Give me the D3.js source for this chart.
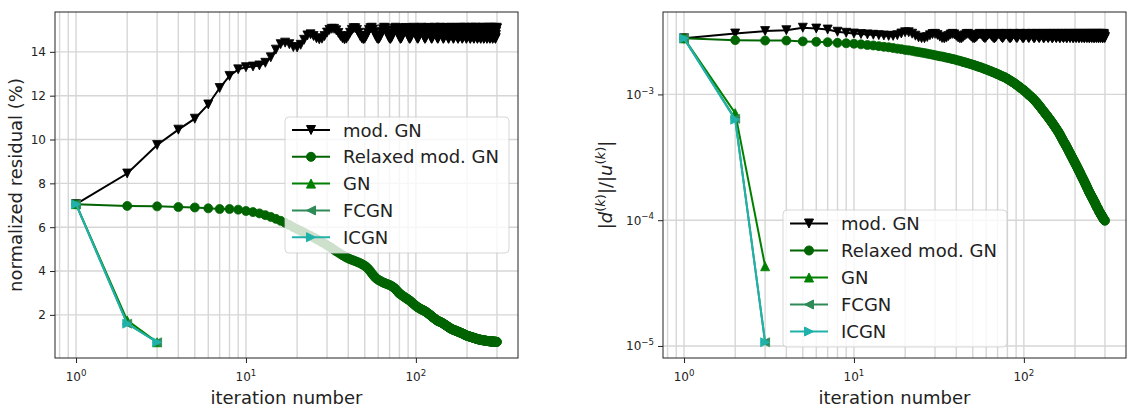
<html>
<script src="https://d3js.org/d3.v7.min.js"></script>
<style>
  body { margin: 0; background: white; }
  text { font-family: "DejaVu Sans", sans-serif; fill: #222; }
</style>
<body>
<svg width="1137" height="410"></svg>
<script>
// ---- data ----
const maxIter = 300;
const seriesNames = ["mod. GN", "Relaxed mod. GN", "GN", "FCGN", "ICGN"];
const seriesColors = ["#000000", "#006400", "#008000", "#2e8b57", "#20b2aa"];
const seriesMarkers = ["v", "o", "^", "<", ">"];
const xTicks = [1, 10, 100];
const resTicks = [2, 4, 6, 8, 10, 12, 14];
const updTicks = [1e-5, 1e-4, 1e-3];

// normalized residual (%), one value per iteration starting at 1
const resModGN = [
  7.05, 8.45, 9.75, 10.45, 10.95, 11.6, 12.35, 12.9, 13.2, 13.3,
  13.33, 13.38, 13.5, 13.75, 14.1, 14.35, 14.42, 14.35, 14.22, 14.2,
  14.32, 14.55, 14.75, 14.8, 14.72, 14.62, 14.57, 14.6, 14.72, 14.88,
  15.0, 15.05, 15.05, 14.98, 14.86, 14.72, 14.62, 14.57, 14.6, 14.72,
  14.87, 15.0, 15.08, 15.08, 15.0, 14.87, 14.72, 14.62, 14.58, 14.6,
  14.72, 14.87, 15.0, 15.08, 15.1, 15.02, 14.88, 14.73, 14.62, 14.58,
  14.62, 14.74, 14.9, 15.03, 15.1, 15.08, 14.98, 14.83, 14.69, 14.6,
  14.59, 14.66, 14.8, 14.95, 15.06, 15.1, 15.05, 14.93, 14.78, 14.66,
  14.59, 14.61, 14.71, 14.86, 15.0, 15.08, 15.09, 15.01, 14.87, 14.73,
  14.63, 14.59, 14.63, 14.75, 14.9, 15.03, 15.1, 15.07, 14.97, 14.82,
  14.69, 14.6, 14.6, 14.68, 14.82, 14.97, 15.07, 15.1, 15.04, 14.91,
  14.76, 14.65, 14.59, 14.62, 14.72, 14.87, 15.01, 15.09, 15.09, 15.0,
  14.85, 14.71, 14.62, 14.59, 14.64, 14.77, 14.92, 15.04, 15.1, 15.06,
  14.95, 14.8, 14.67, 14.6, 14.6, 14.69, 14.84, 14.98, 15.08, 15.1,
  15.03, 14.89, 14.74, 14.64, 14.59, 14.62, 14.74, 14.89, 15.02, 15.09,
  15.08, 14.98, 14.83, 14.7, 14.61, 14.59, 14.66, 14.79, 14.94, 15.05,
  15.1, 15.05, 14.93, 14.78, 14.66, 14.59, 14.61, 14.71, 14.86, 15.0,
  15.08, 15.09, 15.01, 14.87, 14.73, 14.63, 14.59, 14.63, 14.75, 14.9,
  15.03, 15.1, 15.07, 14.96, 14.81, 14.68, 14.6, 14.6, 14.68, 14.82,
  14.97, 15.07, 15.1, 15.04, 14.91, 14.76, 14.65, 14.59, 14.62, 14.72,
  14.87, 15.01, 15.09, 15.09, 15.0, 14.85, 14.71, 14.62, 14.59, 14.64,
  14.77, 14.92, 15.04, 15.1, 15.06, 14.95, 14.8, 14.67, 14.6, 14.6,
  14.69, 14.84, 14.98, 15.08, 15.1, 15.03, 14.89, 14.74, 14.64, 14.59,
  14.62, 14.74, 14.89, 15.02, 15.09, 15.08, 14.98, 14.83, 14.7, 14.61,
  14.59, 14.66, 14.79, 14.94, 15.05, 15.1, 15.05, 14.93, 14.78, 14.66,
  14.59, 14.61, 14.71, 14.86, 15.0, 15.08, 15.09, 15.01, 14.87, 14.73,
  14.63, 14.59, 14.63, 14.75, 14.9, 15.03, 15.1, 15.07, 14.96, 14.81,
  14.68, 14.6, 14.6, 14.68, 14.82, 14.97, 15.07, 15.1, 15.04, 14.91,
  14.76, 14.65, 14.59, 14.62, 14.72, 14.87, 15.01, 15.09, 15.09, 15.0,
  14.85, 14.71, 14.62, 14.59, 14.64, 14.77, 14.92, 15.04, 15.1, 15.06
];
const resRelaxed = [
  7.05, 6.97, 6.95, 6.92, 6.9, 6.86, 6.83, 6.83, 6.8, 6.74,
  6.69, 6.63, 6.55, 6.47, 6.38, 6.29, 6.2, 6.1, 6.0, 5.91,
  5.83, 5.75, 5.67, 5.6, 5.53, 5.46, 5.39, 5.32, 5.25, 5.18,
  5.11, 5.04, 4.97, 4.9, 4.84, 4.78, 4.72, 4.67, 4.62, 4.58,
  4.54, 4.51, 4.48, 4.45, 4.42, 4.39, 4.36, 4.32, 4.28, 4.24,
  4.19, 4.13, 4.06, 3.98, 3.9, 3.82, 3.75, 3.69, 3.64, 3.6,
  3.57, 3.54, 3.51, 3.48, 3.46, 3.44, 3.42, 3.4, 3.38, 3.36,
  3.34, 3.31, 3.28, 3.25, 3.21, 3.17, 3.12, 3.07, 3.02, 2.97,
  2.95, 2.92, 2.89, 2.86, 2.83, 2.8, 2.78, 2.75, 2.73, 2.7,
  2.68, 2.65, 2.62, 2.59, 2.56, 2.53, 2.5, 2.47, 2.44, 2.41,
  2.38, 2.36, 2.34, 2.32, 2.3, 2.28, 2.26, 2.25, 2.23, 2.22,
  2.2, 2.19, 2.17, 2.15, 2.13, 2.11, 2.09, 2.07, 2.05, 2.02,
  2.0, 1.98, 1.96, 1.93, 1.91, 1.89, 1.87, 1.85, 1.83, 1.81,
  1.79, 1.77, 1.75, 1.74, 1.72, 1.71, 1.7, 1.69, 1.68, 1.67,
  1.66, 1.64, 1.63, 1.62, 1.6, 1.59, 1.57, 1.56, 1.54, 1.53,
  1.51, 1.5, 1.48, 1.47, 1.45, 1.44, 1.42, 1.41, 1.4, 1.38,
  1.37, 1.36, 1.35, 1.34, 1.33, 1.32, 1.31, 1.31, 1.3, 1.29,
  1.28, 1.28, 1.27, 1.26, 1.25, 1.24, 1.24, 1.23, 1.22, 1.21,
  1.2, 1.2, 1.19, 1.18, 1.17, 1.16, 1.16, 1.15, 1.14, 1.13,
  1.12, 1.11, 1.1, 1.1, 1.09, 1.08, 1.07, 1.06, 1.06, 1.05,
  1.04, 1.04, 1.03, 1.03, 1.02, 1.02, 1.01, 1.01, 1.0, 1.0,
  0.99, 0.99, 0.98, 0.98, 0.97, 0.97, 0.96, 0.96, 0.95, 0.95,
  0.94, 0.94, 0.93, 0.93, 0.92, 0.92, 0.91, 0.91, 0.9, 0.9,
  0.89, 0.89, 0.89, 0.88, 0.88, 0.88, 0.87, 0.87, 0.87, 0.86,
  0.86, 0.86, 0.86, 0.85, 0.85, 0.85, 0.85, 0.84, 0.84, 0.84,
  0.84, 0.83, 0.83, 0.83, 0.83, 0.82, 0.82, 0.82, 0.82, 0.82,
  0.81, 0.81, 0.81, 0.81, 0.81, 0.8, 0.8, 0.8, 0.8, 0.8,
  0.8, 0.8, 0.79, 0.79, 0.79, 0.79, 0.79, 0.79, 0.79, 0.79,
  0.78, 0.78, 0.78, 0.78, 0.78, 0.78, 0.78, 0.78, 0.78, 0.78,
  0.78, 0.78, 0.77, 0.77, 0.77, 0.77, 0.77, 0.77, 0.77, 0.77
];
const resGN = [7.05, 1.75, 0.75];
const resFCGN = [7.05, 1.6, 0.75];
const resICGN = [7.05, 1.6, 0.75];

// |d(k)|/|u(k)|, written in units of 1e-3, one value per iteration
const updUnit = 1e-3;
const updModGN = [
  2.79, 3.05, 3.19, 3.24, 3.39, 3.34, 3.28, 3.15, 3.09, 3.05,
  3.02, 3.0, 2.98, 2.96, 2.94, 2.92, 2.92, 2.96, 3.05, 3.12,
  3.12, 3.04, 2.93, 2.84, 2.8, 2.8, 2.86, 2.95, 3.02, 3.03,
  2.97, 2.88, 2.81, 2.79, 2.83, 2.91, 2.99, 3.03, 3.0, 2.92,
  2.84, 2.79, 2.8, 2.87, 2.95, 3.02, 3.03, 2.97, 2.88, 2.81,
  2.79, 2.83, 2.91, 2.99, 3.03, 3.0, 2.92, 2.84, 2.8, 2.86,
  2.94, 3.01, 3.03, 2.97, 2.89, 2.82, 2.79, 2.83, 2.91, 2.99,
  3.03, 3.0, 2.92, 2.84, 2.8, 2.86, 2.94, 3.01, 3.03, 2.97,
  2.89, 2.82, 2.79, 2.83, 2.91, 2.99, 3.03, 3.0, 2.92, 2.84,
  2.8, 2.86, 2.94, 3.01, 3.03, 2.97, 2.89, 2.82, 2.79, 2.83,
  2.91, 2.99, 3.03, 3.0, 2.92, 2.84, 2.8, 2.86, 2.94, 3.01,
  3.03, 2.97, 2.89, 2.82, 2.79, 2.83, 2.91, 2.99, 3.03, 3.0,
  2.92, 2.84, 2.8, 2.86, 2.94, 3.01, 3.03, 2.97, 2.89, 2.82,
  2.79, 2.83, 2.91, 2.99, 3.03, 3.0, 2.92, 2.84, 2.8, 2.86,
  2.94, 3.01, 3.03, 2.97, 2.89, 2.82, 2.79, 2.83, 2.91, 2.99,
  3.03, 3.0, 2.92, 2.84, 2.8, 2.86, 2.94, 3.01, 3.03, 2.97,
  2.89, 2.82, 2.79, 2.83, 2.91, 2.99, 3.03, 3.0, 2.92, 2.84,
  2.8, 2.86, 2.94, 3.01, 3.03, 2.97, 2.89, 2.82, 2.79, 2.83,
  2.91, 2.99, 3.03, 3.0, 2.92, 2.84, 2.8, 2.86, 2.94, 3.01,
  3.03, 2.97, 2.89, 2.82, 2.79, 2.83, 2.91, 2.99, 3.03, 3.0,
  2.92, 2.84, 2.8, 2.86, 2.94, 3.01, 3.03, 2.97, 2.89, 2.82,
  2.79, 2.83, 2.91, 2.99, 3.03, 3.0, 2.92, 2.84, 2.8, 2.86,
  2.94, 3.01, 3.03, 2.97, 2.89, 2.82, 2.79, 2.83, 2.91, 2.99,
  3.03, 3.0, 2.92, 2.84, 2.8, 2.86, 2.94, 3.01, 3.03, 2.97,
  2.89, 2.82, 2.79, 2.83, 2.91, 2.99, 3.03, 3.0, 2.92, 2.84,
  2.8, 2.86, 2.94, 3.01, 3.03, 2.97, 2.89, 2.82, 2.79, 2.83,
  2.91, 2.99, 3.03, 3.0, 2.92, 2.84, 2.8, 2.86, 2.94, 3.01,
  3.03, 2.97, 2.89, 2.82, 2.79, 2.83, 2.91, 2.99, 3.03, 3.0,
  2.92, 2.84, 2.8, 2.86, 2.94, 3.01, 3.03, 2.97, 2.89, 2.82,
  2.79, 2.83, 2.91, 2.99, 3.03, 3.0, 2.92, 2.84, 2.8, 2.86
];
const updRelaxed = [
  2.79, 2.7, 2.68, 2.68, 2.64, 2.62, 2.6, 2.57, 2.55, 2.53,
  2.5, 2.47, 2.45, 2.42, 2.39, 2.37, 2.34, 2.31, 2.29, 2.26,
  2.24, 2.22, 2.19, 2.17, 2.15, 2.13, 2.11, 2.09, 2.07, 2.05,
  2.03, 2.01, 2.0, 1.98, 1.96, 1.95, 1.93, 1.91, 1.9, 1.88,
  1.86, 1.85, 1.83, 1.81, 1.8, 1.78, 1.77, 1.75, 1.74, 1.72,
  1.71, 1.69, 1.68, 1.66, 1.65, 1.64, 1.62, 1.61, 1.59, 1.58,
  1.57, 1.55, 1.54, 1.53, 1.51, 1.5, 1.49, 1.48, 1.46, 1.45,
  1.44, 1.43, 1.41, 1.4, 1.39, 1.38, 1.37, 1.36, 1.34, 1.33,
  1.32, 1.3, 1.29, 1.28, 1.26, 1.25, 1.24, 1.23, 1.21, 1.2,
  1.19, 1.17, 1.16, 1.15, 1.14, 1.12, 1.11, 1.1, 1.09, 1.08,
  1.07, 1.05, 1.04, 1.03, 1.02, 1.0, 0.99, 0.98, 0.97, 0.96,
  0.949, 0.937, 0.926, 0.915, 0.904, 0.893, 0.882, 0.871, 0.861, 0.85,
  0.838, 0.827, 0.815, 0.804, 0.793, 0.782, 0.771, 0.761, 0.75, 0.74,
  0.73, 0.721, 0.712, 0.702, 0.693, 0.684, 0.675, 0.667, 0.658, 0.65,
  0.642, 0.633, 0.625, 0.617, 0.609, 0.601, 0.593, 0.585, 0.578, 0.57,
  0.563, 0.555, 0.548, 0.541, 0.534, 0.527, 0.52, 0.513, 0.507, 0.5,
  0.493, 0.485, 0.478, 0.471, 0.464, 0.457, 0.45, 0.443, 0.437, 0.43,
  0.424, 0.418, 0.413, 0.407, 0.402, 0.396, 0.391, 0.385, 0.38, 0.375,
  0.37, 0.364, 0.359, 0.354, 0.349, 0.344, 0.339, 0.335, 0.33, 0.325,
  0.321, 0.317, 0.313, 0.308, 0.304, 0.3, 0.296, 0.293, 0.289, 0.285,
  0.281, 0.278, 0.274, 0.271, 0.267, 0.264, 0.26, 0.257, 0.253, 0.25,
  0.247, 0.244, 0.241, 0.238, 0.235, 0.231, 0.228, 0.226, 0.223, 0.22,
  0.217, 0.215, 0.212, 0.21, 0.207, 0.205, 0.202, 0.2, 0.197, 0.195,
  0.193, 0.19, 0.188, 0.186, 0.183, 0.181, 0.179, 0.177, 0.174, 0.172,
  0.17, 0.168, 0.166, 0.165, 0.163, 0.161, 0.16, 0.158, 0.156, 0.155,
  0.153, 0.152, 0.15, 0.149, 0.147, 0.146, 0.144, 0.143, 0.141, 0.14,
  0.139, 0.137, 0.136, 0.134, 0.133, 0.131, 0.13, 0.129, 0.127, 0.126,
  0.125, 0.124, 0.123, 0.122, 0.12, 0.119, 0.118, 0.117, 0.116, 0.115,
  0.114, 0.113, 0.112, 0.111, 0.11, 0.11, 0.109, 0.108, 0.107, 0.106,
  0.105, 0.104, 0.104, 0.103, 0.102, 0.102, 0.101, 0.1, 0.0995, 0.099
];
const updGN = [2.79, 0.71, 0.043];
const updFCGN = [2.79, 0.64, 0.0107];
const updICGN = [2.79, 0.63, 0.0107];

// ---- drawing ----
const svg = d3.select("svg");
const tickColor = "#222";
const gridColor = "#d6d6d6";
const markerSize = 9;

function markerPath(type, s) {
  const r = s / 2;
  if (type === "o") return d3.symbol(d3.symbolCircle, Math.PI * r * r)();
  const tri = {
    "^": [[0, -r], [r, r], [-r, r]],
    "v": [[0, r], [r, -r], [-r, -r]],
    "<": [[-r, 0], [r, -r], [r, r]],
    ">": [[r, 0], [-r, -r], [-r, r]]
  }[type];
  return "M" + tri.map(p => p.join(",")).join("L") + "Z";
}

function supLabel(sel, base, exp, size) {
  sel.append("tspan").text(base);
  sel.append("tspan").attr("dy", -size * 0.45).attr("font-size", size * 0.72).text(exp);
}

function drawPanel(p) {
  const g = svg.append("g");
  const L = Math.log10(maxIter);
  const x = d3.scaleLog().domain([10 ** (-0.05 * L), 10 ** (1.05 * L)]).range([p.left, p.right]);
  const all = p.series.flatMap(s => s.values);
  let y;
  if (p.logY) {
    const e = d3.extent(all).map(Math.log10);
    const m = 0.05 * (e[1] - e[0]);
    y = d3.scaleLog().domain([10 ** (e[0] - m), 10 ** (e[1] + m)]).range([p.bottom, p.top]);
  } else {
    const e = d3.extent(all);
    const m = 0.05 * (e[1] - e[0]);
    y = d3.scaleLinear().domain([e[0] - m, e[1] + m]).range([p.bottom, p.top]);
  }
  const h = p.bottom - p.top;

  // grid
  g.append("g").selectAll("line").data(x.ticks()).join("line")
    .attr("x1", d => x(d)).attr("x2", d => x(d))
    .attr("y1", p.top).attr("y2", p.bottom)
    .attr("stroke", gridColor).attr("stroke-width", 1.4);
  g.append("g").selectAll("line").data(p.yTicks).join("line")
    .attr("x1", p.left).attr("x2", p.right)
    .attr("y1", d => y(d)).attr("y2", d => y(d))
    .attr("stroke", gridColor).attr("stroke-width", 1.4);

  // series: point i is iteration i + 1
  const line = d3.line().x(d => x(d[0])).y(d => y(d[1]));
  p.series.forEach(s => {
    const pts = s.values.map((v, i) => [i + 1, v]);
    g.append("path").datum(pts).attr("d", line)
      .attr("fill", "none").attr("stroke", s.color).attr("stroke-width", 2);
    g.append("g").selectAll("path").data(pts).join("path")
      .attr("transform", d => `translate(${x(d[0])},${y(d[1])})`)
      .attr("d", markerPath(s.marker, markerSize))
      .attr("fill", s.color).attr("stroke", s.color).attr("stroke-width", 0.8);
  });

  // spines
  g.append("rect").attr("x", p.left).attr("y", p.top)
    .attr("width", p.right - p.left).attr("height", h)
    .attr("fill", "none").attr("stroke", tickColor).attr("stroke-width", 1);

  // x ticks
  const xa = g.append("g").attr("transform", `translate(0,${p.bottom})`);
  xa.call(d3.axisBottom(x).tickValues(x.ticks().filter(v => !xTicks.includes(v))).tickSize(3).tickFormat(""));
  xa.call(d3.axisBottom(x).tickValues(xTicks).tickSize(5).tickFormat("").tickSizeOuter(0));
  xa.selectAll(".domain").remove();
  xa.selectAll("line").attr("stroke", tickColor);
  xTicks.forEach(v => {
    const t = g.append("text").attr("x", x(v)).attr("y", p.bottom + 23)
      .attr("text-anchor", "middle").attr("font-size", 12);
    supLabel(t, "10", String(Math.round(Math.log10(v))), 12);
  });

  // y ticks
  const ya = g.append("g").attr("transform", `translate(${p.left},0)`);
  if (p.logY) {
    ya.call(d3.axisLeft(y).tickValues(y.ticks().filter(v => !p.yTicks.some(t => Math.abs(t - v) / t < 1e-6))).tickSize(3).tickFormat(""));
    ya.call(d3.axisLeft(y).tickValues(p.yTicks).tickSize(5).tickFormat(""));
    p.yTicks.forEach(v => {
      const t = g.append("text").attr("x", p.left - 9).attr("y", y(v) + 4.5)
        .attr("text-anchor", "end").attr("font-size", 12);
      supLabel(t, "10", "\u2212" + Math.round(-Math.log10(v)), 12);
    });
  } else {
    ya.call(d3.axisLeft(y).tickValues(p.yTicks).tickSize(5).tickPadding(4));
    ya.selectAll("text").attr("font-size", 12).attr("font-family", "DejaVu Sans").attr("fill", tickColor);
  }
  ya.selectAll(".domain").remove();
  ya.selectAll("line").attr("stroke", tickColor);

  // axis labels
  g.append("text").attr("x", (p.left + p.right) / 2).attr("y", 404)
    .attr("text-anchor", "middle").attr("font-size", 18).text("iteration number");
  const yl = g.append("text")
    .attr("transform", `translate(${p.yLabelX},${(p.top + p.bottom) / 2}) rotate(-90)`)
    .attr("text-anchor", "middle").attr("font-size", 18);
  p.yLabel(yl);

  // legend
  const lg = g.append("g");
  lg.append("rect").attr("x", p.legend.x).attr("y", p.legend.y)
    .attr("width", p.legend.w).attr("height", p.legend.h).attr("rx", 4)
    .attr("fill", "white").attr("fill-opacity", 0.8)
    .attr("stroke", "#cccccc").attr("stroke-opacity", 0.8);
  p.series.forEach((s, i) => {
    const ry = p.legend.y + p.legend.row0 + i * p.legend.step;
    const lx = p.legend.x + 7;
    lg.append("line").attr("x1", lx).attr("x2", lx + 38).attr("y1", ry).attr("y2", ry)
      .attr("stroke", s.color).attr("stroke-width", 2);
    lg.append("path").attr("transform", `translate(${lx + 19},${ry})`)
      .attr("d", markerPath(s.marker, markerSize)).attr("fill", s.color).attr("stroke", s.color);
    lg.append("text").attr("x", lx + 51).attr("y", ry + 6.5)
      .attr("font-size", 18).text(s.name);
  });
}

function makeSeries(valueLists, scale) {
  return seriesNames.map((name, i) => ({
    name: name,
    color: seriesColors[i],
    marker: seriesMarkers[i],
    values: valueLists[i].map(v => v * scale)
  }));
}

drawPanel({
  left: 55, right: 518, top: 12, bottom: 358,
  logY: false, yTicks: resTicks, yLabelX: 22,
  series: makeSeries([resModGN, resRelaxed, resGN, resFCGN, resICGN], 1),
  yLabel: t => t.text("normalized residual (%)"),
  legend: { x: 285, y: 117, w: 224, h: 136, row0: 13, step: 26.8 }
});

drawPanel({
  left: 663, right: 1126, top: 12, bottom: 358,
  logY: true, yTicks: updTicks, yLabelX: 612,
  series: makeSeries([updModGN, updRelaxed, updGN, updFCGN, updICGN], updUnit),
  yLabel: t => {
    t.append("tspan").text("|");
    t.append("tspan").attr("font-style", "italic").text("d");
    t.append("tspan").attr("dy", -7).attr("font-size", 13).text("(");
    t.append("tspan").attr("font-size", 13).attr("font-style", "italic").text("k");
    t.append("tspan").attr("font-size", 13).text(")");
    t.append("tspan").attr("dy", 7).text("|/|");
    t.append("tspan").attr("font-style", "italic").text("u");
    t.append("tspan").attr("dy", -7).attr("font-size", 13).text("(");
    t.append("tspan").attr("font-size", 13).attr("font-style", "italic").text("k");
    t.append("tspan").attr("font-size", 13).text(")");
    t.append("tspan").attr("dy", 7).text("|");
  },
  legend: { x: 783, y: 210, w: 224, h: 137, row0: 13.5, step: 27 }
});
</script>
</body>
</html>
